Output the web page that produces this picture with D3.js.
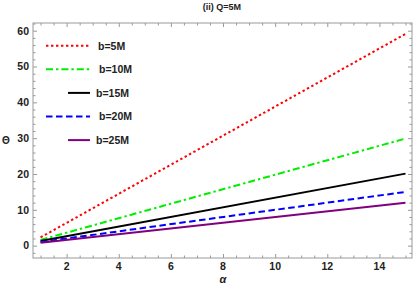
<!DOCTYPE html>
<html><head><meta charset="utf-8">
<script src="https://cdn.jsdelivr.net/npm/d3@7"></script>
<style>body{margin:0;background:#fff}svg{display:block}</style>
</head><body>
<script>
const alphaVals = [1, 15];
const seriesNames = ["b=5M", "b=10M", "b=15M", "b=20M", "b=25M"];
const theta_b5 = [2.3, 59.1];
const theta_b10 = [1.6, 29.9];
const theta_b15 = [1.3, 20.1];
const theta_b20 = [1.0, 15.0];
const theta_b25 = [0.8, 12.0];
const xTicks = [2, 4, 6, 8, 10, 12, 14];
const yTicks = [0, 10, 20, 30, 40, 50, 60];
const titleText = "(ii) Q=5M";

const colors = ["#ff0000", "#00ee00", "#000000", "#0000ff", "#800080"];
const dashes = ["2.4,2.6", "7,3,2.4,3", null, "6.5,3.5", null];
const allVals = [theta_b5, theta_b10, theta_b15, theta_b20, theta_b25];

const W = 415, H = 288;
const L = 33, R = 412, T = 23, B = 258;
const svg = d3.select("body").append("svg").attr("width", W).attr("height", H);
const x = d3.scaleLinear().domain([0.71, 15.25]).range([L, R]);
const y = d3.scaleLinear().domain([-3.45, 62.15]).range([B, T]);

const frameColor = "#999";
const font = "Liberation Sans, Arial, sans-serif";

// frame ticks (inward), all four sides
const xMinor = d3.range(1, 15.01, 0.5).filter(v => !xTicks.includes(v));
const yMinor = d3.range(-2, 62.01, 2).filter(v => !yTicks.includes(v));
function ticks(axisGen, tr, size) { return svg.append("g").attr("transform", tr).call(axisGen.tickSize(size).tickFormat("")); }
ticks(d3.axisTop(x).tickValues(xTicks), `translate(0,${B})`, 4);
ticks(d3.axisTop(x).tickValues(xMinor), `translate(0,${B})`, 2.5);
ticks(d3.axisBottom(x).tickValues(xTicks), `translate(0,${T})`, 4);
ticks(d3.axisBottom(x).tickValues(xMinor), `translate(0,${T})`, 2.5);
ticks(d3.axisRight(y).tickValues(yTicks), `translate(${L},0)`, 4);
ticks(d3.axisRight(y).tickValues(yMinor), `translate(${L},0)`, 2.5);
ticks(d3.axisLeft(y).tickValues(yTicks), `translate(${R},0)`, 4);
ticks(d3.axisLeft(y).tickValues(yMinor), `translate(${R},0)`, 2.5);
svg.selectAll(".domain").remove();
svg.selectAll(".tick line").attr("stroke", frameColor).attr("stroke-width", 1);
svg.append("rect").attr("x", L).attr("y", T).attr("width", R - L).attr("height", B - T)
  .attr("fill", "none").attr("stroke", frameColor).attr("stroke-width", 1);

// tick labels
svg.append("g").selectAll("text").data(xTicks).join("text")
  .attr("x", d => x(d)).attr("y", B + 12).attr("text-anchor", "middle")
  .attr("font-family", font).attr("font-weight", "bold").attr("font-size", 10.5).attr("fill", "#222").text(d => d);
svg.append("g").selectAll("text").data(yTicks).join("text")
  .attr("x", L - 4).attr("y", d => y(d) + 3.8).attr("text-anchor", "end")
  .attr("font-family", font).attr("font-weight", "bold").attr("font-size", 10.5).attr("fill", "#222").text(d => d);

// lines
const clip = svg.append("clipPath").attr("id", "c").append("rect").attr("x", L).attr("y", T).attr("width", R - L).attr("height", B - T);
const line = d3.line().x(d => x(d[0])).y(d => y(d[1]));
allVals.forEach((vals, i) => {
  const pts = alphaVals.map((a, j) => [a, vals[j]]);
  svg.append("path").attr("d", line(pts)).attr("fill", "none").attr("stroke", colors[i])
    .attr("stroke-width", 2).attr("stroke-dasharray", dashes[i]).attr("clip-path", "url(#c)");
});

// legend
const legX0 = [46, 46, 68, 46, 68], legTX = [98, 99, 96, 99, 96];
seriesNames.forEach((n, i) => {
  const ly = 45.7 + i * 23.6;
  svg.append("line").attr("x1", legX0[i]).attr("x2", 90).attr("y1", ly).attr("y2", ly)
    .attr("stroke", colors[i]).attr("stroke-width", 2).attr("stroke-dasharray", dashes[i]);
  svg.append("text").attr("x", legTX[i]).attr("y", ly + 3.8).attr("font-family", font)
    .attr("font-weight", "bold").attr("font-size", 10.5).attr("fill", "#222").text(n);
});

// title and axis labels
svg.append("text").attr("x", 222).attr("y", 10).attr("text-anchor", "middle").attr("font-family", font)
  .attr("font-weight", "bold").attr("font-size", 9).attr("fill", "#222").text(titleText);
svg.append("text").attr("x", 6).attr("y", 144).attr("text-anchor", "middle").attr("font-family", font)
  .attr("font-weight", "bold").attr("font-size", 10).attr("fill", "#222").text("Θ");
svg.append("text").attr("x", 223).attr("y", 283).attr("text-anchor", "middle").attr("font-family", font)
  .attr("font-style", "italic").attr("font-weight", "bold").attr("font-size", 11).attr("fill", "#222").text("α");
</script>
</body></html>
